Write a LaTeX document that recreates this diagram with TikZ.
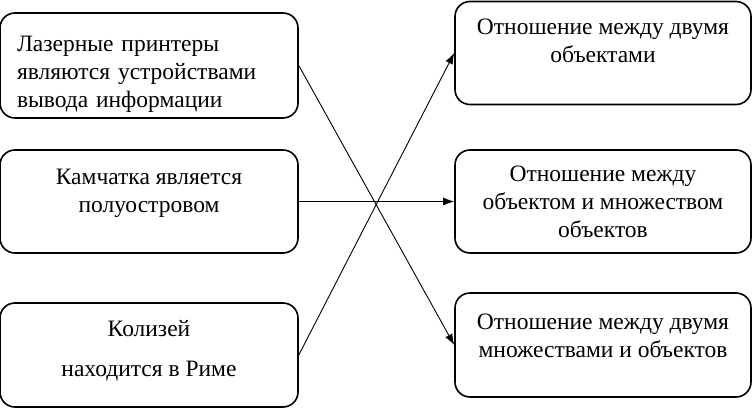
\documentclass[tikz,border=0pt]{standalone}
\usepackage{fontspec}
\setmainfont{Liberation Serif}
\usetikzlibrary{arrows.meta}

\begin{document}
\begin{tikzpicture}[x=1pt, y=1pt,
  box/.style={draw, line width=1.6pt, rounded corners=15pt, minimum height=103pt},
  lbox/.style={box, minimum width=298pt},
  rbox/.style={box, minimum width=296pt},
  txt/.style={align=center, inner sep=0pt, font=\fontsize{23.5}{28}\selectfont},
  link/.style={line width=0.9pt, -{Latex[length=11pt, width=8pt]}}]
  \useasboundingbox (0,0) rectangle (752,408);
  % left column
  \node [lbox, minimum height=105pt] (laser) at (149,342.5) {};
  \node [txt, text width=264pt, align=left] (laser-t) at ([yshift=-9pt]laser) {Лазерные принтеры\\являются устройствами\\вывода информации};
  \node [lbox] (kamch) at (149,206.5) {};
  \node [txt] (kamch-t) at ([yshift=8pt]kamch) {Камчатка является\\полуостровом};
  \node [lbox, minimum height=104pt] (koliz) at (149,53) {};
  \node [txt, font=\fontsize{23.5}{40}\selectfont] (koliz-t) at ([yshift=4pt]koliz) {Колизей\\находится в Риме};
  % right column
  \node [rbox] (obj) at (603,355) {};
  \node [txt] (obj-t) at ([yshift=12pt]obj) {Отношение между двумя\\объектами};
  \node [rbox] (objset) at (603,206.5) {};
  \node [txt] (objset-t) at (objset) {Отношение между\\объектом и множеством\\объектов};
  \node [rbox, minimum height=104pt] (sets) at (603,63) {};
  \node [txt] (sets-t) at ([yshift=9.5pt]sets) {Отношение между двумя\\множествами и объектов};
  % links
  \draw [link] (laser.east) -- (sets.west);
  \draw [link] (kamch.east) -- (objset.west);
  \draw [link] (koliz.east) -- (obj.west);
\end{tikzpicture}
\end{document}
